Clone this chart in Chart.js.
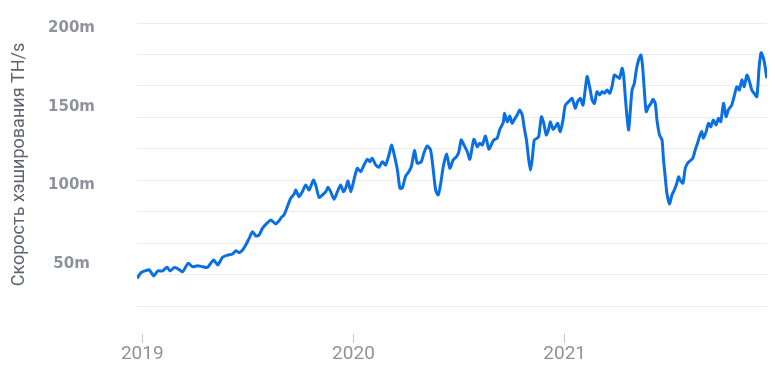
<!DOCTYPE html>
<html>
<head>
<meta charset="utf-8">
<script src="https://cdn.jsdelivr.net/npm/chart.js@4/dist/chart.umd.min.js"></script>
<style>
  html, body { margin: 0; padding: 0; background: #fff; }
  #wrap { width: 775px; height: 369px; }
</style>
</head>
<body>
<div id="wrap"><canvas id="chart"></canvas></div>
<script>
// время в долях года, значения в млн TH/s
const timeYears = [
  2018.975, 2018.994, 2019.017, 2019.033, 2019.054, 2019.073, 2019.096, 2019.117, 2019.132, 2019.151,
  2019.167, 2019.191, 2019.217, 2019.238, 2019.262, 2019.286, 2019.309, 2019.338, 2019.357, 2019.380,
  2019.404, 2019.427, 2019.443, 2019.459, 2019.475, 2019.490, 2019.506, 2019.522, 2019.538, 2019.553,
  2019.569, 2019.593, 2019.609, 2019.632, 2019.648, 2019.659, 2019.671, 2019.687, 2019.703, 2019.719,
  2019.727, 2019.742, 2019.758, 2019.774, 2019.790, 2019.810, 2019.821, 2019.837, 2019.853, 2019.869,
  2019.879, 2019.892, 2019.908, 2019.924, 2019.939, 2019.952, 2019.963, 2019.974, 2019.987, 2020.002,
  2020.018, 2020.034, 2020.050, 2020.066, 2020.078, 2020.089, 2020.105, 2020.121, 2020.137, 2020.152,
  2020.168, 2020.181, 2020.195, 2020.208, 2020.220, 2020.231, 2020.247, 2020.262, 2020.274, 2020.289,
  2020.302, 2020.321, 2020.333, 2020.349, 2020.365, 2020.376, 2020.389, 2020.401, 2020.412, 2020.425,
  2020.441, 2020.456, 2020.472, 2020.488, 2020.499, 2020.510, 2020.523, 2020.539, 2020.551, 2020.570,
  2020.586, 2020.598, 2020.610, 2020.625, 2020.641, 2020.652, 2020.664, 2020.680, 2020.693, 2020.709,
  2020.715, 2020.728, 2020.740, 2020.751, 2020.762, 2020.775, 2020.787, 2020.799, 2020.809, 2020.819,
  2020.830, 2020.838, 2020.846, 2020.856, 2020.869, 2020.877, 2020.890, 2020.901, 2020.913, 2020.924,
  2020.932, 2020.945, 2020.956, 2020.967, 2020.979, 2020.992, 2021.003, 2021.019, 2021.035, 2021.050,
  2021.061, 2021.074, 2021.087, 2021.106, 2021.118, 2021.130, 2021.141, 2021.153, 2021.166, 2021.177,
  2021.188, 2021.201, 2021.213, 2021.224, 2021.235, 2021.248, 2021.260, 2021.272, 2021.279, 2021.287,
  2021.295, 2021.303, 2021.311, 2021.319, 2021.330, 2021.339, 2021.350, 2021.361, 2021.369, 2021.377,
  2021.386, 2021.397, 2021.409, 2021.418, 2021.429, 2021.437, 2021.449, 2021.461, 2021.468, 2021.476,
  2021.484, 2021.496, 2021.508, 2021.519, 2021.531, 2021.539, 2021.547, 2021.560, 2021.571, 2021.582,
  2021.594, 2021.607, 2021.618, 2021.629, 2021.641, 2021.649, 2021.657, 2021.670, 2021.681, 2021.692,
  2021.704, 2021.717, 2021.728, 2021.739, 2021.752, 2021.764, 2021.775, 2021.791, 2021.802, 2021.815,
  2021.827, 2021.839, 2021.850, 2021.863, 2021.875, 2021.886, 2021.897, 2021.910, 2021.921, 2021.930,
  2021.941, 2021.949, 2021.957
];

const hashrate = [
  37.6, 41.2, 42.5, 43.0, 39.1, 42.3, 42.3, 44.6, 42.3, 44.4,
  43.8, 41.8, 47.2, 45.0, 45.6, 45.0, 44.6, 49.3, 46.1, 51.0,
  52.4, 53.1, 55.2, 53.9, 55.6, 58.8, 63.0, 67.3, 64.5, 65.2,
  69.4, 73.0, 74.7, 72.2, 74.3, 76.4, 77.9, 83.2, 88.5, 91.2,
  93.8, 89.5, 92.7, 97.0, 93.8, 100.1, 97.0, 89.1, 90.6, 92.7,
  95.5, 92.7, 87.9, 92.7, 97.0, 92.7, 94.9, 99.5, 92.7, 100.1,
  107.6, 105.4, 109.7, 113.3, 111.8, 114.0, 109.7, 108.2, 111.8, 109.7,
  116.1, 122.4, 115.0, 106.5, 94.9, 94.9, 102.7, 105.4, 108.6, 118.8,
  110.8, 111.8, 117.1, 121.8, 119.2, 108.6, 93.8, 90.6, 97.0, 108.6,
  116.7, 107.6, 112.9, 115.0, 118.1, 125.6, 122.4, 118.1, 113.3, 126.0,
  121.3, 123.5, 122.4, 128.1, 119.7, 122.4, 125.6, 126.7, 132.4, 136.6,
  142.6, 137.2, 140.9, 136.2, 138.7, 141.5, 144.7, 141.5, 133.0, 125.6,
  112.9, 106.5, 112.9, 125.6, 126.7, 127.7, 140.4, 136.2, 128.8, 132.4,
  137.2, 132.4, 134.0, 136.2, 130.9, 138.3, 147.8, 150.0, 152.1, 145.8,
  150.0, 152.1, 147.8, 165.9, 159.5, 151.0, 148.9, 156.3, 154.2, 156.3,
  155.3, 157.4, 155.3, 159.5, 166.9, 165.9, 164.8, 171.2, 166.9, 153.1,
  140.4, 132.0, 144.7, 157.4, 161.7, 170.1, 176.5, 179.6, 172.2, 157.4,
  143.6, 146.8, 148.9, 151.5, 148.9, 138.3, 128.8, 125.6, 112.9, 102.2,
  91.7, 84.9, 90.6, 93.8, 98.1, 102.2, 100.1, 98.1, 107.6, 110.8,
  112.4, 114.0, 119.2, 123.5, 128.8, 130.9, 126.7, 130.9, 136.2, 134.0,
  138.3, 135.1, 139.4, 137.2, 148.9, 140.4, 144.7, 147.8, 153.1, 159.5,
  157.4, 163.8, 159.5, 166.9, 162.7, 157.4, 155.3, 153.1, 172.2, 181.1,
  177.6, 172.2, 164.8
];

const yearTicks = [2019, 2020, 2021];
const gridValues = [20, 40, 60, 80, 100, 120, 140, 160, 180, 200];
const labelValues = [50, 100, 150, 200];

const points = timeYears.map((t, i) => ({ x: t, y: hashrate[i] }));
const allYTicks = Array.from(new Set(gridValues.concat(labelValues))).sort((a, b) => a - b);

new Chart(document.getElementById('chart'), {
  type: 'line',
  data: {
    datasets: [{
      data: points,
      borderColor: '#0b6fe4',
      borderWidth: 3,
      pointRadius: 0,
      tension: 0.2,
      borderJoinStyle: 'round',
      fill: false
    }]
  },
  options: {
    responsive: true,
    maintainAspectRatio: false,
    animation: false,
    layout: { padding: { top: 23, right: 8, left: 0, bottom: 0 } },
    plugins: {
      legend: { display: false },
      tooltip: { enabled: false }
    },
    scales: {
      x: {
        type: 'linear',
        min: 2018.975,
        max: 2021.958,
        afterBuildTicks: (scale) => { scale.ticks = yearTicks.map(v => ({ value: v })); },
        afterFit: (scale) => { scale.height = 63; },
        border: { display: false },
        grid: {
          drawOnChartArea: false,
          drawTicks: true,
          tickLength: 37,
          tickColor: '#c4c7cc',
          tickWidth: 1,
          tickBorderDash: [0, 28, 9, 100]
        },
        ticks: {
          autoSkip: false,
          maxRotation: 0,
          padding: 0,
          color: '#8e929b',
          font: { family: 'Roboto', size: 19 },
          callback: (v) => String(v)
        }
      },
      y: {
        min: 20,
        max: 200,
        afterBuildTicks: (scale) => { scale.ticks = allYTicks.map(v => ({ value: v })); },
        afterFit: (scale) => {
          scale.width = 137;
          // отступ подписей не должен сдвигать область графика
          scale.paddingTop = 0;
          scale.paddingBottom = 0;
        },
        border: { display: false },
        grid: {
          drawTicks: false,
          color: (ctx) => gridValues.includes(ctx.tick && ctx.tick.value) ? '#ececec' : 'rgba(0,0,0,0)',
          lineWidth: 1
        },
        ticks: {
          autoSkip: false,
          crossAlign: 'center',
          padding: 42,
          labelOffset: 5,
          color: '#8e929b',
          font: { family: 'DejaVu Sans', size: 15, weight: 'bold' },
          callback: (v) => labelValues.includes(v) ? v + 'm' : ''
        },
        title: {
          display: true,
          text: 'Скорость хэширования TH/s',
          color: '#5f6570',
          font: { family: 'Roboto', size: 18 },
          padding: { top: 9, bottom: 0 }
        }
      }
    }
  }
});
</script>
</body>
</html>
